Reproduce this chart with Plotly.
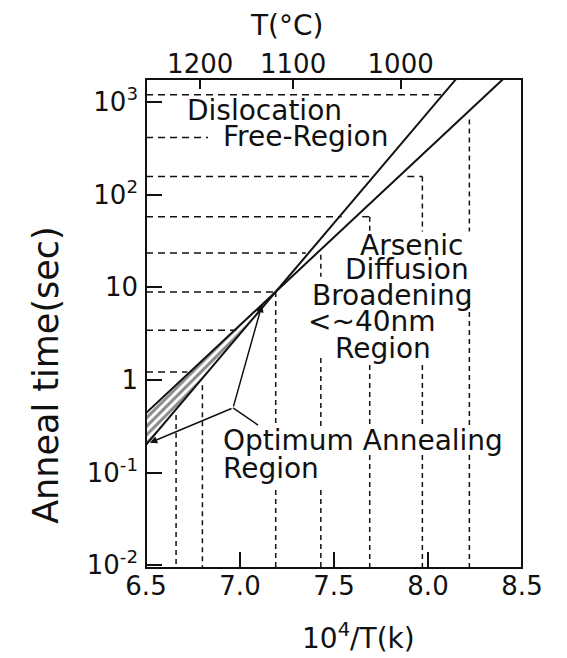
import numpy as np
import plotly.graph_objects as go

# axes: bottom 10^4/T(K), left anneal time (log), top the same scale in deg C
x_range = [6.5, 8.5]
y_range_log = [-2.03, 3.25]
x_ticks = [6.5, 7.0, 7.5, 8.0, 8.5]
x_ticktext = ["6.5", "7.0", "7.5", "8.0", "8.5"]
y_ticks = [1e3, 1e2, 1e1, 1, 1e-1, 1e-2]
y_ticktext = ["10<sup>3</sup>", "10<sup>2</sup>", "10", "1", "10<sup>-1</sup>", "10<sup>-2</sup>"]
celsius_ticks = [1200, 1100, 1000]

# boundary lines (10^4/T, time in s)
disloc_x = [6.5, 8.15]
disloc_t = [0.20, 1780]
arsenic_x = [6.5, 8.40]
arsenic_t = [0.44, 1780]

# hatched optimum band between the two lines
band_x = [6.5, 7.19, 6.5]
band_t = [0.44, 8.9, 0.20]

# horizontal dashed guides: time, start, end
h_t = [1205, 415, 157, 157, 58, 58, 23.5, 8.9, 3.45, 1.22]
h_x0 = [6.5, 6.5, 6.5, 7.89, 6.5, 7.65, 6.5, 6.5, 6.5, 6.5]
h_x1 = [8.09, 6.83, 7.71, 7.97, 7.54, 7.69, 7.35, 7.19, 6.98, 6.72]

# vertical dashed guides: x, top time, bottom time (broken where text sits)
v_x = [6.66, 6.80, 7.19, 7.19, 7.43, 7.43, 7.43, 7.69, 7.69, 7.69,
       7.97, 7.97, 7.97, 8.22, 8.22, 8.22]
v_top = [0.42, 0.88, 8.9, 0.065, 22.5, 1.73, 0.065, 58, 1.45, 0.155,
         157, 1.45, 0.155, 650, 6.8, 0.155]
v_bot = [0.009, 0.009, 0.31, 0.009, 13.0, 0.31, 0.009, 40, 0.31, 0.009,
         40, 0.31, 0.009, 40, 0.31, 0.009]

# "Optimum Annealing Region" pointer
ptr_vertex = (6.963, 0.50)
ptr_tips = [(7.117, 6.5), (6.52, 0.21)]
ptr_tail = (7.096, 0.326)

# in-plot labels
labels = [
    ("Dislocation", 7.13, 810, "center"),
    ("Free-Region", 7.35, 427, "center"),
    ("Arsenic", 7.91, 28, "center"),
    ("Diffusion", 7.89, 15.5, "center"),
    ("Broadening", 7.81, 8.1, "center"),
    ("&lt;~40nm", 7.70, 4.3, "center"),
    ("Region", 7.76, 2.2, "center"),
    ("Optimum Annealing", 6.90, 0.224, "left"),
    ("Region", 6.90, 0.112, "left"),
]

FONT = "DejaVu Sans"
INK = "#111111"

fig = go.Figure()

fig.add_trace(go.Scatter(
    x=band_x, y=band_t, mode="lines", fill="toself",
    fillcolor="rgba(0,0,0,0)", line=dict(width=0),
    fillpattern=dict(shape="/", size=6, solidity=0.5, fgcolor=INK, bgcolor="white"),
    hoverinfo="skip", showlegend=False
))

hx, hy = [], []
for t, a, b in zip(h_t, h_x0, h_x1):
    hx += [a, b, None]
    hy += [t, t, None]
fig.add_trace(go.Scatter(x=hx, y=hy, mode="lines",
                         line=dict(color=INK, width=1.5, dash="7px,5px"),
                         hoverinfo="skip", showlegend=False))

vx, vy = [], []
for x, a, b in zip(v_x, v_top, v_bot):
    vx += [x, x, None]
    vy += [a, b, None]
fig.add_trace(go.Scatter(x=vx, y=vy, mode="lines",
                         line=dict(color=INK, width=1.5, dash="5px,4px"),
                         hoverinfo="skip", showlegend=False))

for xs, ts in [(disloc_x, disloc_t), (arsenic_x, arsenic_t)]:
    fig.add_trace(go.Scatter(x=xs, y=ts, mode="lines",
                             line=dict(color=INK, width=2),
                             hoverinfo="skip", showlegend=False))

fig.add_trace(go.Scatter(x=[ptr_vertex[0], ptr_tail[0]], y=[ptr_vertex[1], ptr_tail[1]],
                         mode="lines", line=dict(color=INK, width=1.5),
                         hoverinfo="skip", showlegend=False))

# dummy trace so the top (deg C) axis is drawn, on its own hidden y axis
fig.add_trace(go.Scatter(x=x_range, y=[0, 0], xaxis="x2", yaxis="y2", mode="markers",
                         marker=dict(opacity=0), hoverinfo="skip", showlegend=False))

for tx, tt in ptr_tips:
    fig.add_annotation(x=tx, y=np.log10(tt), ax=ptr_vertex[0], ay=np.log10(ptr_vertex[1]),
                       xref="x", yref="y", axref="x", ayref="y", text="",
                       showarrow=True, arrowhead=2, arrowsize=1, arrowwidth=1.5,
                       arrowcolor=INK)

for txt, x, t, anchor in labels:
    fig.add_annotation(x=x, y=np.log10(t), xref="x", yref="y", text=txt,
                       showarrow=False, xanchor=anchor, yanchor="middle",
                       font=dict(family=FONT, size=28, color=INK))

# axis titles
fig.add_annotation(x=0.375, y=1.11, xref="paper", yref="paper", text="T(°C)",
                   showarrow=False, xanchor="center", yanchor="middle",
                   font=dict(family=FONT, size=28, color=INK))
fig.add_annotation(x=0.564, y=-0.141, xref="paper", yref="paper",
                   text="10<sup>4</sup>/T(k)", showarrow=False,
                   xanchor="center", yanchor="middle",
                   font=dict(family=FONT, size=28, color=INK))
fig.add_annotation(x=-0.266, y=0.395, xref="paper", yref="paper",
                   text="Anneal time(sec)", textangle=-90, showarrow=False,
                   xanchor="center", yanchor="middle",
                   font=dict(family=FONT, size=35, color=INK))

# plot frame
fig.add_shape(type="rect", xref="paper", yref="paper", x0=0, x1=1, y0=0, y1=1,
              line=dict(color=INK, width=2), layer="above")

tick_font = dict(family=FONT, size=26, color=INK)
fig.update_layout(
    width=559, height=650,
    margin=dict(l=138, r=45, t=71, b=90),
    paper_bgcolor="white", plot_bgcolor="white",
    xaxis=dict(range=x_range, tickmode="array", tickvals=x_ticks, ticktext=x_ticktext,
               ticks="inside", ticklen=16, tickwidth=2, tickcolor=INK,
               showline=False, showgrid=False, zeroline=False, tickfont=tick_font),
    xaxis2=dict(range=x_range, side="top", anchor="y2", overlaying="x",
                tickmode="array", tickvals=[1e4 / (c + 273.15) for c in celsius_ticks],
                ticktext=[str(c) for c in celsius_ticks],
                ticks="inside", ticklen=10, tickwidth=2, tickcolor=INK,
                showline=False, showgrid=False, zeroline=False, tickfont=tick_font),
    yaxis=dict(type="log", range=y_range_log, tickmode="array", tickvals=y_ticks,
               ticktext=y_ticktext, ticks="inside", ticklen=16, tickwidth=2, tickcolor=INK,
               showline=False, showgrid=False, zeroline=False, tickfont=tick_font,
               ticklabelstandoff=7),
    yaxis2=dict(overlaying="y", range=[-1, 1], visible=False, showgrid=False,
                zeroline=False),
)

fig.write_html("out.html")
